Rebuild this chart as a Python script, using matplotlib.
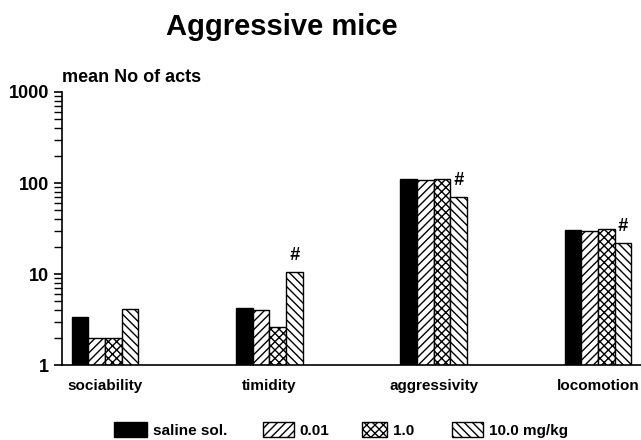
import matplotlib
matplotlib.use("Agg")
import matplotlib.pyplot as plt
import numpy as np

plt.rcParams['font.family'] = ['Liberation Sans', 'DejaVu Sans']
plt.rcParams['font.weight'] = 'bold'
plt.rcParams['hatch.linewidth'] = 1.0

categories = ["sociability", "timidity", "aggressivity", "locomotion"]
groups = ["saline sol.", "0.01", "1.0", "10.0 mg/kg"]
saline = [3.4, 4.2, 110, 30.5]
dose_001 = [2.0, 4.0, 108, 29.4]
dose_1 = [2.0, 2.6, 110, 31.5]
dose_10 = [4.1, 10.4, 69.6, 21.7]
significant = [False, True, True, True]

series = [saline, dose_001, dose_1, dose_10]
fills = ['black', 'white', 'white', 'white']
hatches = [None, '////', 'xxxx', '\\\\\\\\']

fig = plt.figure(figsize=(6.41, 4.40), dpi=100)
ax = fig.add_axes([62/641, 1 - 365/440, 1 - 62/641, (365 - 92)/440])

x = np.arange(len(categories))
w = 0.101
bars = []
for i, vals in enumerate(series):
    b = ax.bar(x + (i - 1.5) * w, vals, width=w, color=fills[i], edgecolor='black',
               hatch=hatches[i], linewidth=1.0, label=groups[i])
    bars.append(b)

for j, flag in enumerate(significant):
    if flag:
        ax.text(x[j] + 1.5 * w, dose_10[j] * 1.25, '#', ha='center', va='bottom',
                fontsize=13, fontweight='bold', fontstyle='italic')

ax.set_yscale('log')
ax.set_ylim(1, 1000)
ax.set_xlim(-0.262, 3.262)
ax.set_xticks(x)
ax.set_xticklabels(categories, fontsize=11, fontweight='bold')
ax.tick_params(axis='x', length=0, pad=10)
ax.tick_params(axis='y', which='major', length=6, width=1.2, labelsize=13)
ax.tick_params(axis='y', which='minor', length=6, width=1.0)
ax.set_yticks([1, 10, 100, 1000])
ax.set_yticklabels(['1', '10', '100', '1000'], fontweight='bold')
ax.spines['top'].set_visible(False)
ax.spines['right'].set_visible(False)
ax.spines['left'].set_linewidth(1.2)
ax.spines['bottom'].set_linewidth(1.2)

ax.text(0, 1.022, 'mean No of acts', transform=ax.transAxes, fontsize=13,
        fontweight='bold', ha='left', va='bottom')
fig.text(282/641, 1 - 27/440, 'Aggressive mice', fontsize=21, fontweight='bold',
         ha='center', va='center')

# legend entries are spaced unevenly in the original, so one legend per entry
legend_x = [114, 263, 362, 452]
legend_len = [2.15, 2.0, 1.65, 2.0]
for b, lab, lx, hl in zip(bars, groups, legend_x, legend_len):
    lg = fig.legend(handles=[b], labels=[lab], loc='center left',
                    bbox_to_anchor=(lx/641, 1 - 430/440), frameon=False,
                    fontsize=11, handlelength=hl, handleheight=1.1,
                    handletextpad=0.4, borderpad=0, borderaxespad=0)

fig.savefig('out.png', dpi=100)
